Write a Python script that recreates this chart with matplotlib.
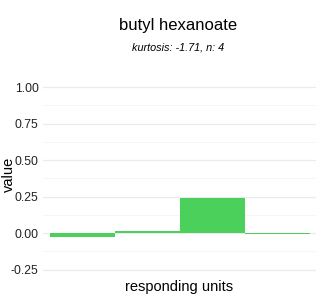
import matplotlib
matplotlib.use("Agg")
import matplotlib.pyplot as plt

units = [1, 2, 3, 4]
values = [-0.025, 0.012, 0.242, -0.004]
yticks = [-0.25, 0.0, 0.25, 0.50, 0.75, 1.00]
ytick_labels = ["-0.25", "0.00", "0.25", "0.50", "0.75", "1.00"]
minor_ticks = [-0.125, 0.125, 0.375, 0.625, 0.875]

plt.rcParams['font.family'] = ['Liberation Sans', 'DejaVu Sans']

fig = plt.figure(figsize=(3.2, 3.0), dpi=100)
ax = fig.add_axes([0.134, 0.071, 0.853, 0.669])

ax.bar(units, values, width=1.0, color='#4bd05b', zorder=2)

ax.set_xlim(0.39, 4.59)
ax.set_ylim(-0.3125, 1.0625)
ax.set_yticks(yticks)
ax.set_yticklabels(ytick_labels)
ax.set_yticks(minor_ticks, minor=True)
ax.set_xticks([])
ax.grid(axis='y', which='major', color='#ebebeb', linewidth=0.9, zorder=0)
ax.grid(axis='y', which='minor', color='#f5f5f5', linewidth=0.6, zorder=0)
ax.tick_params(axis='y', which='both', length=0, labelsize=8.8, labelcolor='#222222', pad=3)
for s in ax.spines.values():
    s.set_visible(False)

ax.set_xlabel('responding units', fontsize=10.5, labelpad=1)
fig.text(0.028, 0.42, 'value', rotation=90, ha='center', va='center', fontsize=10.5)

fig.text(0.5575, 0.915, 'butyl hexanoate', ha='center', va='center', fontsize=12)
fig.text(0.5575, 0.84, 'kurtosis: -1.71, n: 4', ha='center', va='center', fontsize=7.8, style='italic')

fig.savefig('out.png', dpi=100)
